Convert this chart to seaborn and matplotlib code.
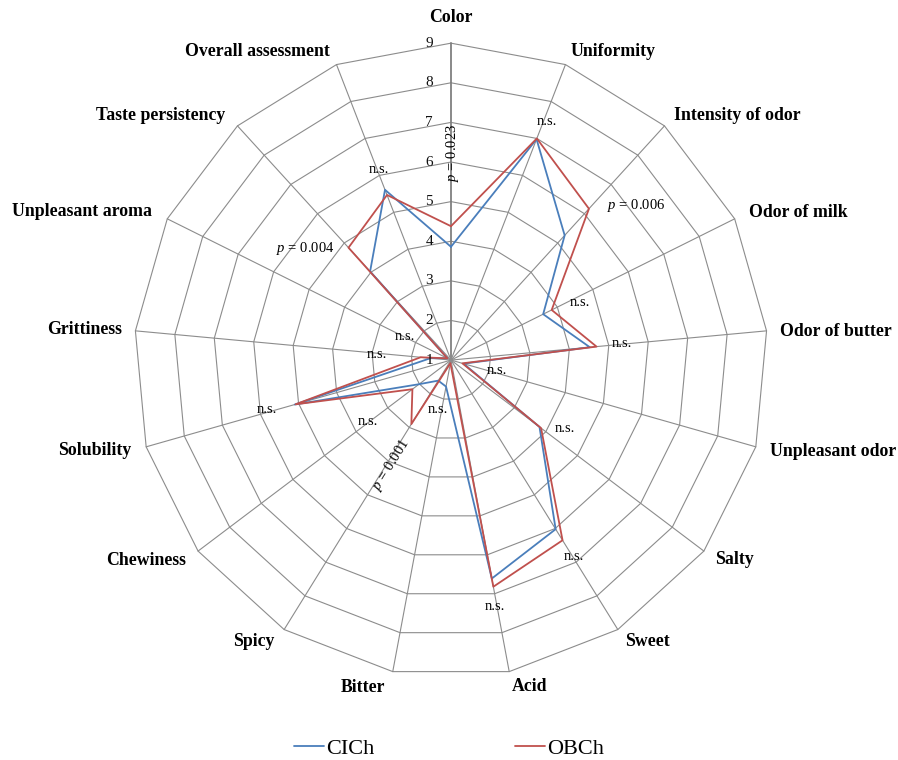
import numpy as np
import pandas as pd
import matplotlib
matplotlib.use("Agg")
import matplotlib.pyplot as plt
import seaborn as sns

# Sensory attributes, clockwise from the top
attributes = ["Color", "Uniformity", "Intensity of odor", "Odor of milk",
              "Odor of butter", "Unpleasant odor", "Salty", "Sweet", "Acid",
              "Bitter", "Spicy", "Chewiness", "Solubility", "Grittiness",
              "Unpleasant aroma", "Taste persistency", "Overall assessment"]

cich = [3.86, 6.98, 5.26, 3.60, 4.52, 1.33, 3.80, 6.02, 6.61,
        1.68, 1.61, 2.01, 5.10, 1.52, 1.10, 4.03, 5.61]
obch = [4.38, 7.00, 6.17, 3.84, 4.69, 1.30, 3.85, 6.35, 6.82,
        1.08, 2.90, 2.22, 5.08, 1.77, 1.10, 4.84, 5.47]

significance = ["p = 0.023", "n.s.", "p = 0.006", "n.s.", "n.s.", "n.s.",
                "n.s.", "n.s.", "n.s.", "n.s.", "p = 0.001", "n.s.", "n.s.",
                "n.s.", "n.s.", "p = 0.004", "n.s."]

scale_ticks = [1, 2, 3, 4, 5, 6, 7, 8, 9]
series_names = ["CICh", "OBCh"]

# ---- layout (angle in degrees clockwise from top, radius in scale units) ----
label_layout = [(0.0, 9.64), (27.7, 9.81), (49.5, 10.49), (66.9, 10.52),
                (85.7, 10.75), (103.4, 10.92), (125.2, 9.75), (145.0, 9.66),
                (166.4, 9.48), (195.0, 9.55), (215.0, 9.66), (236.7, 10.21),
                (255.7, 10.28), (274.7, 10.29), (291.9, 11.04), (310.1, 10.57),
                (328.0, 10.20)]
note_layout = [(0.55, 6.23, 90), (21.9, 7.5, 0), (50.0, 7.09, 0), (65.8, 4.57, 0),
               (84.6, 5.33, 0), (103.2, 2.18, 0), (120.8, 4.35, 0), (147.9, 6.84, 0),
               (170.0, 7.31, 0), (194.4, 2.29, 0), (209.5, 4.05, 58), (233.3, 3.61, 0),
               (255.0, 5.80, 0), (274.6, 2.88, 0), (297.6, 2.31, 0), (307.4, 5.64, 0),
               (339.3, 6.13, 0)]

sns.set_theme(style="white")
plt.rcParams["font.family"] = ["Liberation Serif", "DejaVu Serif"]
plt.rcParams["mathtext.fontset"] = "custom"
plt.rcParams["mathtext.it"] = "Liberation Serif:italic"
plt.rcParams["mathtext.rm"] = "Liberation Serif"
plt.rcParams["text.color"] = "black"

n = len(attributes)
angles = np.arange(n) * 2 * np.pi / n
closed = np.append(angles, 2 * np.pi)

rows = []
for name, vals in zip(series_names, [cich, obch]):
    for a, v in zip(closed, list(vals) + [vals[0]]):
        rows.append({"theta": a, "score": v, "sample": name})
df = pd.DataFrame(rows)

fig = plt.figure(figsize=(8.98, 7.60), dpi=100)
ax = fig.add_axes([0.1492, 0.1092, 0.706, 0.834], projection="polar")
ax.set_theta_zero_location("N")
ax.set_theta_direction(-1)
ax.set_ylim(1, 9)
ax.grid(False)
ax.spines["polar"].set_visible(False)
ax.set_facecolor("white")

grid_c = "#8c8c8c"
for lvl in scale_ticks[1:]:
    ax.plot(closed, [lvl] * (n + 1), color=grid_c, lw=0.8, zorder=1, clip_on=False)
for i, a in enumerate(angles):
    ax.plot([a, a], [1, 9], color="#808080" if i == 0 else grid_c,
            lw=1.3 if i == 0 else 0.8, zorder=1, clip_on=False)

palette = {"CICh": "#4a7ebb", "OBCh": "#c0504d"}
sns.lineplot(data=df, x="theta", y="score", hue="sample", palette=palette,
             sort=False, estimator=None, lw=1.3, ax=ax, zorder=3, legend=True)

ax.set_xticks([])
ax.set_yticks([])
ax.set_xlabel("")
ax.set_ylabel("")
ax.set_ylim(1, 9)

# scale values along the first spoke
for t in scale_ticks:
    ax.annotate(str(t), xy=(0, t), xytext=(-13, 0), textcoords="offset points",
                ha="right", va="center", fontsize=11, color="#111111", zorder=4)

# attribute names
for name, (deg, r) in zip(attributes, label_layout):
    ax.text(np.deg2rad(deg), r, name, ha="center", va="center",
            fontsize=12.8, fontweight="bold", color="black", clip_on=False)

# significance notes
for note, (deg, r, rot) in zip(significance, note_layout):
    txt = note.replace("p =", "$p$ =") if note.startswith("p") else note
    ax.text(np.deg2rad(deg), r, txt, ha="center", va="center", rotation=rot,
            rotation_mode="anchor", fontsize=10.5, color="black", zorder=5)

handles, labels = ax.get_legend_handles_labels()
ax.get_legend().remove()
fig.legend(handles, labels, loc="center", bbox_to_anchor=(0.5, 0.0145), ncol=2,
           frameon=False, fontsize=16, handlelength=1.35, handletextpad=0.1,
           columnspacing=6.3, labelcolor="black")

fig.savefig("out.png", dpi=100, facecolor="white")
